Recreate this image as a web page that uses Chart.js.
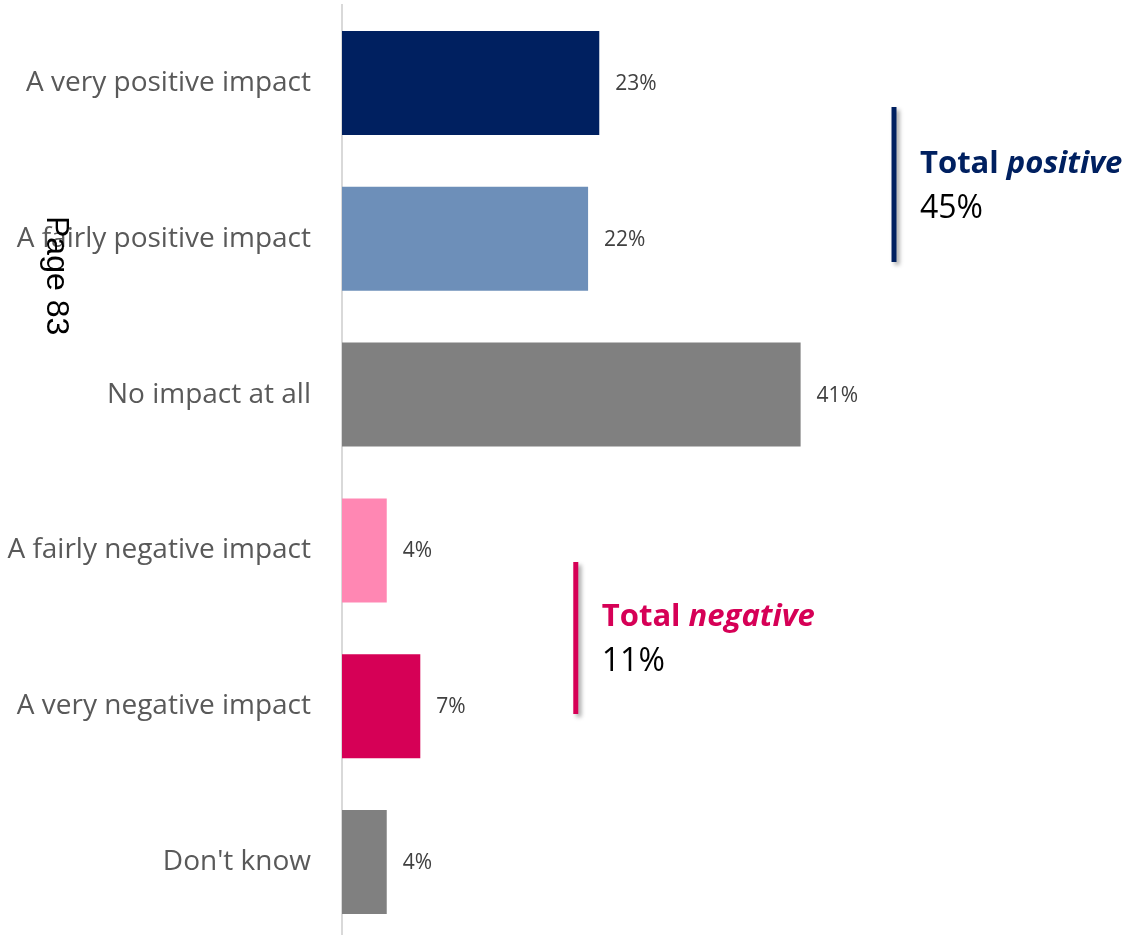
<!DOCTYPE html>
<html>
<head>
<meta charset="utf-8">
<script src="https://cdn.jsdelivr.net/npm/chart.js@4.4.1/dist/chart.umd.min.js"></script>
<style>
  html, body { margin: 0; padding: 0; background: #ffffff; overflow: hidden; }
  #wrap { width: 1129px; height: 941px; }
</style>
</head>
<body>
<div id="wrap"><canvas id="chart" width="1129" height="941"></canvas></div>
<script>
// Survey answers, top to bottom
const categories = [
  'A very positive impact',
  'A fairly positive impact',
  'No impact at all',
  'A fairly negative impact',
  'A very negative impact',
  "Don't know"
];
// Share of respondents (%)
const values = [23, 22, 41, 4, 7, 4];
const barColors = ['#002060', '#6D8FB9', '#808080', '#FF87B3', '#D60056', '#808080'];

// Net groupings shown beside the bars
const groupTitles = ['Total', 'Total'];
const groupWords = ['positive', 'negative'];
const groupMembers = [[0, 1], [3, 4]];
const groupColors = ['#002060', '#D60056'];
// bracket placement in axis units: x value, first/last category offset
const groupX = [49.35, 20.9];
const groupSpan = [[0.155, 1.149], [3.074, 4.05]];

const pageNote = 'Page 83';

const FONT = '"Open Sans", "DejaVu Sans", sans-serif';

const overlay = {
  id: 'overlay',
  afterDatasetsDraw(chart) {
    const ctx = chart.ctx;
    const xs = chart.scales.x, ys = chart.scales.y;
    const meta = chart.getDatasetMeta(0);

    // value labels at bar ends
    ctx.save();
    ctx.font = '21px ' + FONT;
    ctx.fillStyle = '#404040';
    ctx.textAlign = 'left';
    ctx.textBaseline = 'middle';
    meta.data.forEach((bar, i) => {
      ctx.fillText(values[i] + '%', bar.x + 16, bar.y + 1);
    });
    ctx.restore();

    // net brackets with totals
    groupMembers.forEach((members, g) => {
      const total = members.reduce((s, i) => s + values[i], 0);
      const x = xs.getPixelForValue(groupX[g]);
      const y0 = ys.getPixelForValue(groupSpan[g][0]);
      const y1 = ys.getPixelForValue(groupSpan[g][1]);
      ctx.save();
      ctx.shadowColor = 'rgba(0,0,0,0.35)';
      ctx.shadowBlur = 4;
      ctx.shadowOffsetX = 3;
      ctx.shadowOffsetY = 3;
      ctx.strokeStyle = groupColors[g];
      ctx.lineWidth = 5;
      ctx.beginPath();
      ctx.moveTo(x, y0);
      ctx.lineTo(x, y1);
      ctx.stroke();
      ctx.restore();

      const tx = x + 26;
      const mid = (y0 + y1) / 2;
      const base1 = mid - 12;
      ctx.save();
      ctx.textAlign = 'left';
      ctx.textBaseline = 'alphabetic';
      ctx.fillStyle = groupColors[g];
      ctx.font = 'bold 31px ' + FONT;
      const head = groupTitles[g] + ' ';
      ctx.fillText(head, tx, base1);
      const w = ctx.measureText(head).width;
      ctx.font = 'italic bold 31px ' + FONT;
      ctx.fillText(groupWords[g], tx + w, base1);
      ctx.fillStyle = '#000000';
      ctx.font = '32px ' + FONT;
      ctx.fillText(total + '%', tx, base1 + 45);
      ctx.restore();
    });

    // rotated page note
    ctx.save();
    ctx.translate(47, 216);
    ctx.rotate(Math.PI / 2);
    ctx.font = '32px "Liberation Sans", Arial, sans-serif';
    ctx.fillStyle = '#000000';
    ctx.textAlign = 'left';
    ctx.textBaseline = 'alphabetic';
    ctx.fillText(pageNote, 0, 0);
    ctx.restore();
  }
};

new Chart(document.getElementById('chart'), {
  type: 'bar',
  data: {
    labels: categories,
    datasets: [{
      data: values,
      backgroundColor: barColors,
      borderWidth: 0,
      categoryPercentage: 1,
      barPercentage: 0.667
    }]
  },
  options: {
    indexAxis: 'y',
    responsive: false,
    animation: false,
    layout: { padding: { top: 5, bottom: 1, left: 0, right: 4 } },
    plugins: { legend: { display: false }, tooltip: { enabled: false } },
    scales: {
      x: {
        display: false,
        min: 0,
        max: 70
      },
      y: {
        grid: { display: false, drawTicks: false },
        border: { display: true, color: '#D9D9D9', width: 2 },
        ticks: {
          color: '#595959',
          font: { family: FONT, size: 28 },
          padding: 31
        },
        afterFit(scale) {
          scale.width = 342;
          scale.paddingTop = 0;
          scale.paddingBottom = 0;
        }
      }
    }
  },
  plugins: [overlay]
});
</script>
</body>
</html>
